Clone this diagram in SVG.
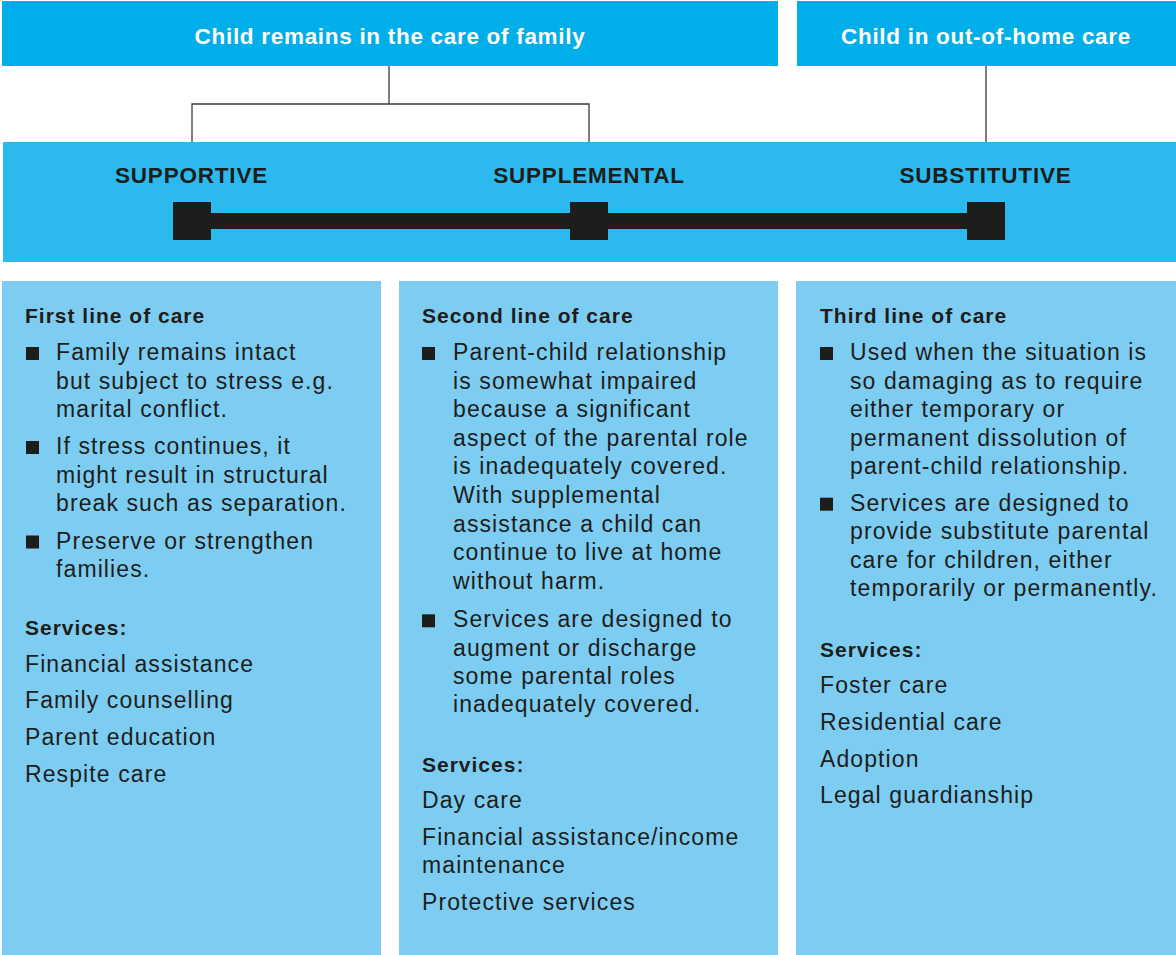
<svg xmlns="http://www.w3.org/2000/svg" width="1176" height="955" viewBox="0 0 1176 955">
<style>
.top{fill:#00AEEA}
.band{fill:#2CBAEE}
.col{fill:#7DCDF2}
.title{font-family:"Liberation Sans",Arial,sans-serif;font-weight:bold;font-size:22.5px;letter-spacing:0.7px;fill:#FFFFFF;text-anchor:middle}
.lvl{font-family:"Liberation Sans",Arial,sans-serif;font-weight:bold;font-size:22.5px;letter-spacing:0.8px;fill:#1D1D1B;text-anchor:middle}
.h{font-family:"Liberation Sans",Arial,sans-serif;font-weight:bold;font-size:21px;letter-spacing:1px;fill:#1D1D1B}
.t{font-family:"Liberation Sans",Arial,sans-serif;font-size:23px;letter-spacing:1.1px;fill:#1D1D1B}
.b{fill:#1D1D1B}
.conn{stroke:#3A3A3A;stroke-width:1.3;fill:none}
.scale{fill:#1D1D1B}
</style>
<defs>
<rect id="bul" width="13" height="13" class="b"/>
</defs>

<g id="family-care">
<rect class="top" x="2" y="1" width="776" height="65"/>
<text class="title" x="390" y="43.5">Child remains in the care of family</text>
</g>
<g id="out-of-home-care">
<rect class="top" x="797" y="1" width="379" height="65"/>
<text class="title" x="986" y="43.5">Child in out-of-home care</text>
</g>

<g id="connectors">
<path class="conn" d="M389 66 V104 M192 142 V104 H589 V142 M986 66 V142"/>
</g>

<g id="continuum">
<rect class="band" x="3" y="142" width="1173" height="120"/>
<text class="lvl" x="191.5" y="183">SUPPORTIVE</text>
<text class="lvl" x="589" y="183">SUPPLEMENTAL</text>
<text class="lvl" x="985.5" y="183">SUBSTITUTIVE</text>
<rect class="scale" x="211" y="213" width="756" height="16"/>
<rect class="scale" x="173" y="202" width="38" height="38"/>
<rect class="scale" x="570" y="202" width="38" height="38"/>
<rect class="scale" x="967" y="202" width="38" height="38"/>
</g>

<g id="first-line">
<rect class="col" x="2" y="281" width="379" height="674"/>
<text class="h" x="25" y="323">First line of care</text>
<use href="#bul" x="26" y="347"/>
<text class="t" x="56" y="360">Family remains intact</text>
<text class="t" x="56" y="388.5">but subject to stress e.g.</text>
<text class="t" x="56" y="417">marital conflict.</text>
<use href="#bul" x="26" y="441"/>
<text class="t" x="56" y="454">If stress continues, it</text>
<text class="t" x="56" y="482.5">might result in structural</text>
<text class="t" x="56" y="511">break such as separation.</text>
<use href="#bul" x="26" y="535.5"/>
<text class="t" x="56" y="548.5">Preserve or strengthen</text>
<text class="t" x="56" y="577">families.</text>
<text class="h" x="25" y="635">Services:</text>
<text class="t" x="25" y="671.7">Financial assistance</text>
<text class="t" x="25" y="708.3">Family counselling</text>
<text class="t" x="25" y="745">Parent education</text>
<text class="t" x="25" y="781.7">Respite care</text>
</g>

<g id="second-line">
<rect class="col" x="399" y="281" width="379" height="674"/>
<text class="h" x="422" y="323">Second line of care</text>
<use href="#bul" x="422" y="347"/>
<text class="t" x="453" y="360">Parent-child relationship</text>
<text class="t" x="453" y="388.6">is somewhat impaired</text>
<text class="t" x="453" y="417.2">because a significant</text>
<text class="t" x="453" y="445.8">aspect of the parental role</text>
<text class="t" x="453" y="474.4">is inadequately covered.</text>
<text class="t" x="453" y="503">With supplemental</text>
<text class="t" x="453" y="531.6">assistance a child can</text>
<text class="t" x="453" y="560.2">continue to live at home</text>
<text class="t" x="453" y="588.8">without harm.</text>
<use href="#bul" x="422" y="614.3"/>
<text class="t" x="453" y="627.3">Services are designed to</text>
<text class="t" x="453" y="655.7">augment or discharge</text>
<text class="t" x="453" y="684">some parental roles</text>
<text class="t" x="453" y="712.3">inadequately covered.</text>
<text class="h" x="422" y="771.7">Services:</text>
<text class="t" x="422" y="808.3">Day care</text>
<text class="t" x="422" y="845">Financial assistance/income</text>
<text class="t" x="422" y="873.3">maintenance</text>
<text class="t" x="422" y="910">Protective services</text>
</g>

<g id="third-line">
<rect class="col" x="796" y="281" width="380" height="674"/>
<text class="h" x="820" y="323">Third line of care</text>
<use href="#bul" x="820" y="347"/>
<text class="t" x="850" y="360">Used when the situation is</text>
<text class="t" x="850" y="388.5">so damaging as to require</text>
<text class="t" x="850" y="417">either temporary or</text>
<text class="t" x="850" y="445.5">permanent dissolution of</text>
<text class="t" x="850" y="474">parent-child relationship.</text>
<use href="#bul" x="820" y="497.7"/>
<text class="t" x="850" y="510.7">Services are designed to</text>
<text class="t" x="850" y="539">provide substitute parental</text>
<text class="t" x="850" y="567.5">care for children, either</text>
<text class="t" x="850" y="596">temporarily or permanently.</text>
<text class="h" x="820" y="656.7">Services:</text>
<text class="t" x="820" y="693.3">Foster care</text>
<text class="t" x="820" y="730">Residential care</text>
<text class="t" x="820" y="766.7">Adoption</text>
<text class="t" x="820" y="803.3">Legal guardianship</text>
</g>
</svg>
